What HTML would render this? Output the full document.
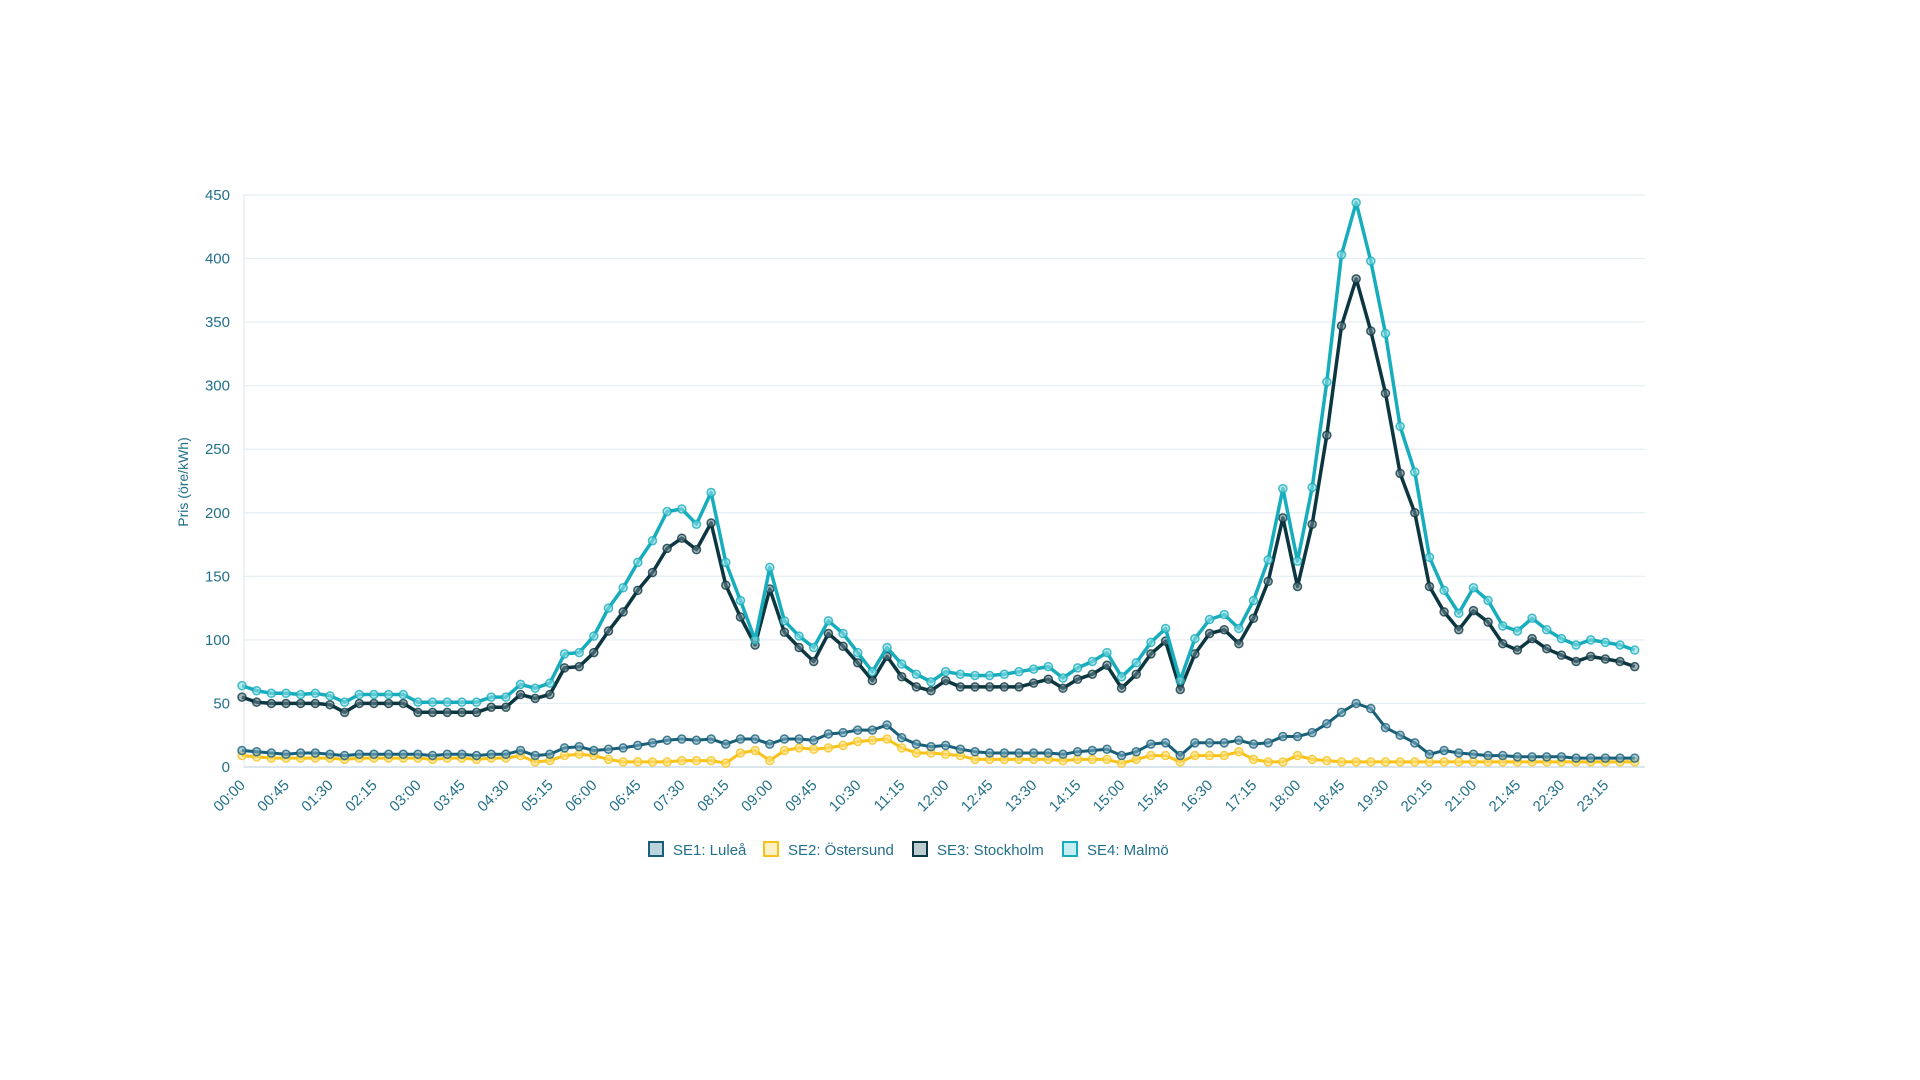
<!DOCTYPE html>
<html><head><meta charset="utf-8">
<style>
html,body{margin:0;padding:0;background:#fff;}
svg{display:block;font-family:"Liberation Sans",Arial,sans-serif;}
</style></head>
<body>
<svg id="c" width="1920" height="1080" viewBox="0 0 1920 1080" xmlns="http://www.w3.org/2000/svg"></svg>
<script>
var S=document.getElementById('c');
var NS='http://www.w3.org/2000/svg';
function el(t,a,txt){var e=document.createElementNS(NS,t);for(var k in a)e.setAttribute(k,a[k]);if(txt!==undefined)e.textContent=txt;S.appendChild(e);return e;}
function X(i){return 242+i*14.66;}
function Y(v){return 767-v*1.2711;}
var tc='#23708a';
for(var g=0;g<=9;g++){var y=Y(g*50);
 el('line',{x1:244,x2:1645,y1:y,y2:y,stroke:g==0?'#cfdde5':'#e5eef2','stroke-width':g==0?1.5:1.2});
 el('text',{x:230,y:y+5,'text-anchor':'end','font-size':15,fill:tc},String(g*50));}
el('line',{x1:244,x2:244,y1:Y(450),y2:767,stroke:'#e2ebf0','stroke-width':1.2});
el('text',{x:0,y:0,'font-size':14,fill:tc,'text-anchor':'middle',transform:'translate(188,482) rotate(-90)'},'Pris (öre/kWh)');
for(var i=0;i<96;i+=3){var m=i*15,h=Math.floor(m/60),mm=m%60;
 var s=(h<10?'0':'')+h+':'+(mm<10?'0':'')+mm;
 el('text',{x:0,y:0,'font-size':15,fill:tc,'text-anchor':'end',transform:'translate('+(X(i)+4)+',786) rotate(-45)'},s);}
var se4=[64,60,58,58,57,58,56,51,57,57,57,57,51,51,51,51,51,55,55,65,62,66,89,90,103,125,141,161,178,201,203,191,216,161,131,100,157,115,103,94,115,105,90,75,94,81,73,67,75,73,72,72,73,75,77,79,70,78,83,90,71,82,98,109,68,101,116,120,109,131,163,219,162,220,303,403,444,398,341,268,232,165,139,121,141,131,111,107,117,108,101,96,100,98,96,92];
var se3=[55,51,50,50,50,50,49,43,50,50,50,50,43,43,43,43,43,47,47,57,54,57,78,79,90,107,122,139,153,172,180,171,192,143,118,96,140,106,94,83,105,95,82,68,87,71,63,60,68,63,63,63,63,63,66,69,62,69,73,80,62,73,89,99,61,89,105,108,97,117,146,196,142,191,261,347,384,343,294,231,200,142,122,108,123,114,97,92,101,93,88,83,87,85,83,79];
var se1=[13,12,11,10,11,11,10,9,10,10,10,10,10,9,10,10,9,10,10,13,9,10,15,16,13,14,15,17,19,21,22,21,22,18,22,22,18,22,22,21,26,27,29,29,33,23,18,16,17,14,12,11,11,11,11,11,10,12,13,14,9,12,18,19,9,19,19,19,21,18,19,24,24,27,34,43,50,46,31,25,19,10,13,11,10,9,9,8,8,8,8,7,7,7,7,7];
var se2=[9,8,7,7,7,7,7,6,7,7,7,7,7,6,7,7,6,7,7,9,4,5,9,10,9,6,4,4,4,4,5,5,5,3,11,13,5,13,15,14,15,17,20,21,22,15,11,11,10,9,6,6,6,6,6,6,5,6,6,6,3,6,9,9,4,9,9,9,12,6,4,4,9,6,5,4,4,4,4,4,4,4,4,4,4,4,4,4,4,4,4,4,4,4,4,4];
function series(d,col,w,fill){var p='';for(var i=0;i<d.length;i++)p+=(i?'L':'M')+X(i).toFixed(1)+' '+Y(d[i]).toFixed(1);
 el('path',{d:p,fill:'none',stroke:col,'stroke-width':w,'stroke-linejoin':'round'});
 for(var i=0;i<d.length;i++)el('circle',{cx:X(i),cy:Y(d[i]),r:4,fill:fill,stroke:col,'stroke-width':1.5,'stroke-opacity':0.8});}
series(se2,'#f7c31a',3,'rgba(255,225,130,0.6)');
series(se1,'#1a5f78',3,'rgba(120,170,190,0.6)');
series(se3,'#0c3640',3.5,'rgba(100,130,140,0.6)');
series(se4,'#17adbd',3.5,'rgba(140,220,225,0.6)');
var L=[[656,'SE1: Luleå','#1a5f78','#bcd3dc'],[771,'SE2: Östersund','#f7c31a','#fdf0c6'],[920,'SE3: Stockholm','#0c3640','#bccbcf'],[1070,'SE4: Malmö','#17adbd','#c6edf1']];
L.forEach(function(l){el('rect',{x:l[0]-7,y:842,width:14,height:14,fill:l[3],stroke:l[2],'stroke-width':2});
 el('text',{x:l[0]+17,y:855,'font-size':15,fill:tc},l[1]);});
</script>
</body></html>
